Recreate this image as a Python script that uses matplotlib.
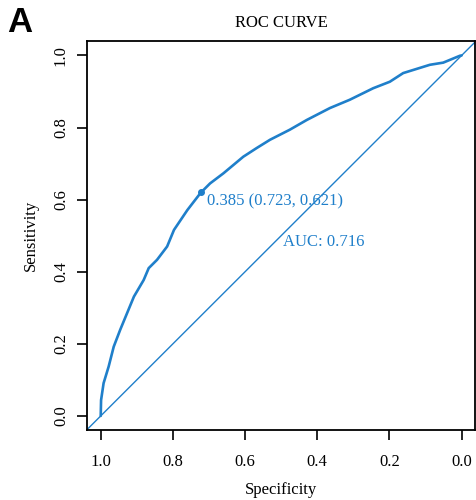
import matplotlib
matplotlib.use('Agg')
import matplotlib.pyplot as plt

# ROC points (specificity, sensitivity)
specificity = [1.0, 0.999, 0.992, 0.978, 0.964, 0.946, 0.927, 0.908, 0.881, 0.867,
               0.844, 0.816, 0.797, 0.760, 0.723, 0.697, 0.660, 0.605, 0.568, 0.531,
               0.476, 0.429, 0.365, 0.310, 0.245, 0.199, 0.162, 0.088, 0.051, 0.005, 0.0]
sensitivity = [0.0, 0.044, 0.091, 0.137, 0.192, 0.239, 0.285, 0.331, 0.377, 0.410,
               0.433, 0.470, 0.516, 0.571, 0.619, 0.645, 0.673, 0.719, 0.743, 0.766,
               0.794, 0.821, 0.854, 0.877, 0.909, 0.927, 0.951, 0.974, 0.980, 0.999, 1.0]
best_threshold = 0.385
best_spec = 0.723
best_sens = 0.621
auc = 0.716
ticks = [1.0, 0.8, 0.6, 0.4, 0.2, 0.0]

blue = '#1f7fca'
plt.rcParams['font.family'] = ['Liberation Serif', 'DejaVu Serif']

fig = plt.figure(figsize=(4.76, 5.0), dpi=100)
ax = fig.add_axes([87 / 476, 70 / 500, 388 / 476, 389 / 500])

# diagonal reference line across the whole box
ax.axline((1, 0), (0, 1), color=blue, lw=1.0)
ax.plot(specificity, sensitivity, color=blue, lw=1.9, solid_capstyle='round')
ax.plot([best_spec], [best_sens], 'o', color=blue, ms=4)

ax.text(best_spec - 0.017, best_sens - 0.027,
        f'{best_threshold:.3f} ({best_spec:.3f}, {best_sens:.3f})',
        color=blue, fontsize=12, ha='left', va='center')
ax.text(0.495, 0.483, f'AUC: {auc:.3f}', color=blue, fontsize=12,
        ha='left', va='center')

ax.set_xlim(1.038, -0.037)
ax.set_ylim(-0.039, 1.040)
ax.set_xticks(ticks)
ax.set_yticks(ticks)
ax.set_xticklabels([f'{t:.1f}' for t in ticks], fontsize=12)
ax.set_yticklabels([f'{t:.1f}' for t in ticks], fontsize=12, rotation=90, va='center')
ax.tick_params(direction='out', length=7, width=1.2, pad=6)
ax.tick_params(axis='x', pad=10)
for s in ax.spines.values():
    s.set_linewidth(1.3)

ax.set_xlabel('Specificity', fontsize=12, labelpad=9)
ax.set_ylabel('Sensitivity', fontsize=12, labelpad=10)
ax.set_title('ROC CURVE', fontsize=12, pad=10)

fig.text(7 / 476, 1 - 32 / 500, 'A', fontsize=25, fontweight='bold',
         family='Liberation Sans', va='baseline', ha='left')

fig.savefig('out.png', dpi=100)
